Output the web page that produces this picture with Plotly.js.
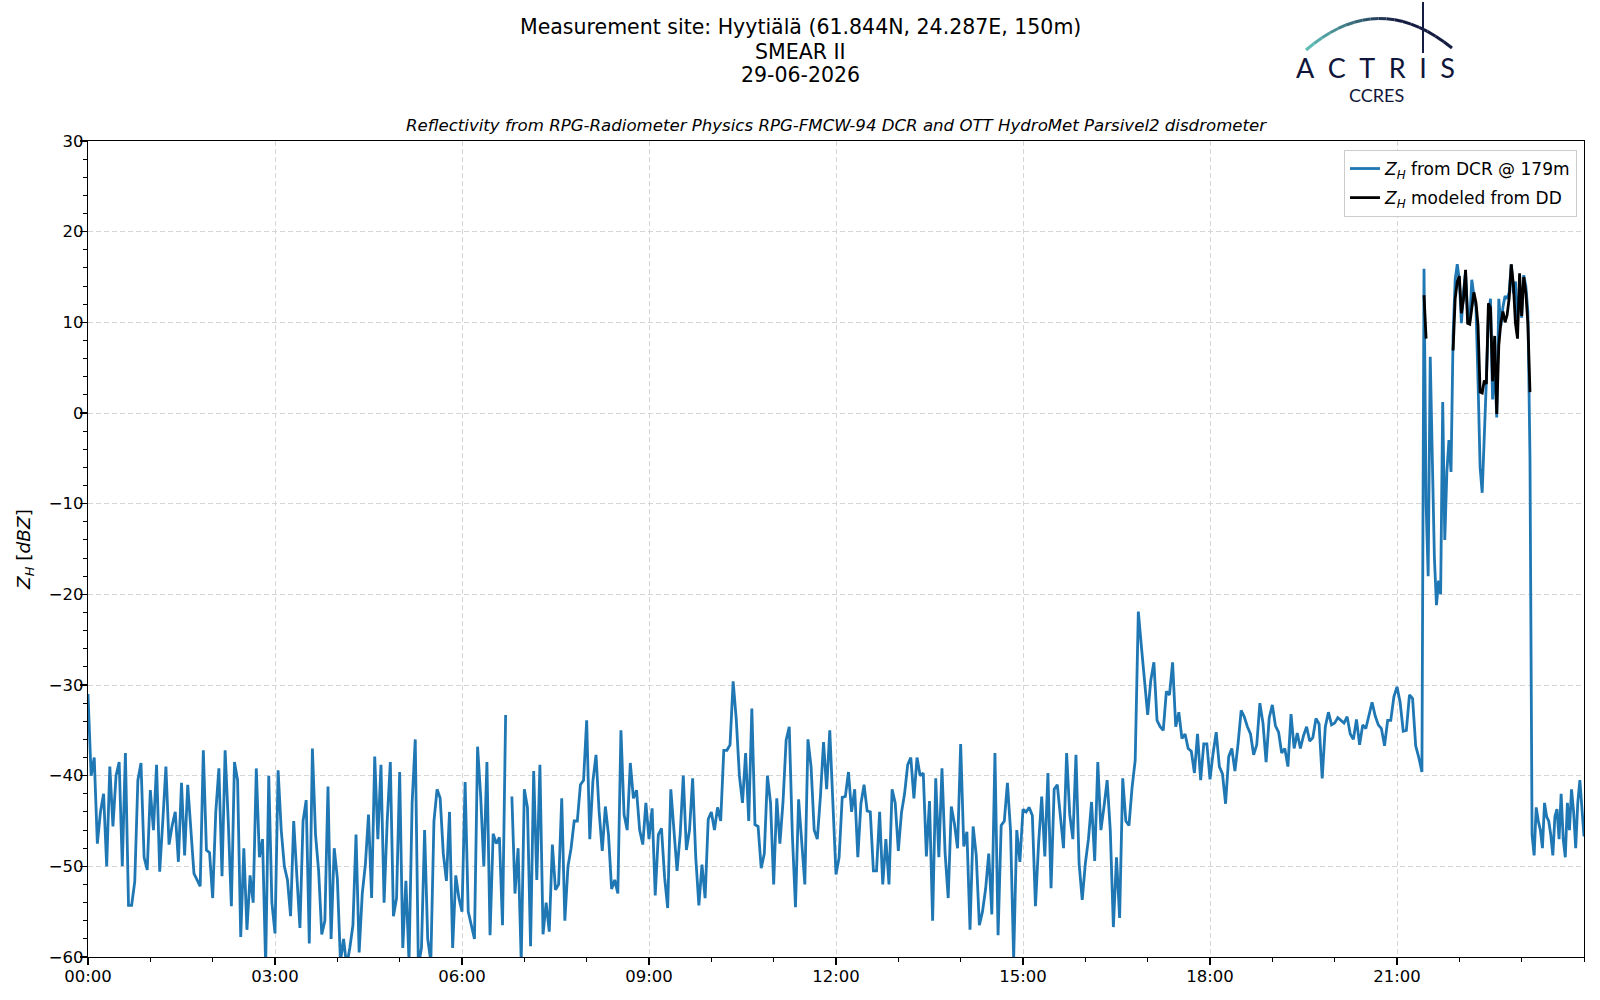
<!DOCTYPE html>
<html>
<head>
<meta charset="utf-8">
<script src="https://cdn.plot.ly/plotly-3.0.1.min.js"></script>
<style>
  html, body { margin: 0; padding: 0; background: #fff; }
  #chart { width: 1600px; height: 1000px; }
</style>
</head>
<body>
<div id="chart"></div>
<script>
// radar reflectivity, 3 minute steps from 00:00 until 21:24 (one row per hour)
var dcrDay = [
  -31, -40, -38, -47.5, -44, -42, -50, -39, -45.6, -40, -38.5, -50, -37.5, -54.3, -54.3, -51.7, -40.5, -38.6, -49, -50.4,
  -41.6, -46, -38.8, -50.6, -45, -39, -47.6, -45.5, -44, -49.5, -40.8, -48.8, -41, -46, -50.8, -51.5, -52.2, -37.2, -48.2, -48.5,
  -53.5, -44, -39.2, -51.1, -37.2, -45, -54.4, -38.5, -40.5, -57.8, -48, -57, -51, -54, -39.2, -49, -47, -61, -40, -54,
  -57.4, -39.4, -46, -50, -51.5, -55.5, -45, -51, -56.8, -45, -42.7, -58.5, -37, -46.5, -50.5, -57.5, -56, -41.2, -58, -48,
  -51.3, -60.5, -58, -61, -59, -56.5, -46.5, -59.5, -53, -49.8, -44.3, -53.5, -37.9, -47, -38.8, -54, -45, -38.5, -55.5, -53.5,
  -39.6, -59, -51.6, -60.5, -43, -36, -61, -59, -46, -58, -60.5, -45, -41.5, -42.5, -48.6, -51.6, -44, -59, -51, -53.5,
  -55, -40.7, -55, -56.5, -58, -36.8, -42.3, -50, -38.5, -57.6, -46.4, -47.5, -46.8, -56.5, -33.3, null, -42.3, -53, -48, -60.5,
  -41.5, -43.5, -58.8, -39.5, -51.5, -38.8, -57.5, -54, -57.2, -47.6, -52.6, -52, -42.5, -56, -50, -48, -45, -45, -41, -40.5,
  -33.9, -47, -40.6, -37.7, -44, -48.3, -43.4, -46.5, -52.5, -51.5, -53, -35, -44.3, -46, -38.6, -42.5, -41.6, -46, -47.6, -43,
  -47, -43.6, -53.2, -46.5, -45.8, -51.2, -54.6, -41.5, -46, -50.5, -46.5, -40, -48.2, -46, -40.3, -49, -54.3, -49.8, -53.5, -44.8,
  -44, -46, -43.5, -45, -37.2, -37.2, -36.6, -29.6, -33.8, -40, -43, -37.5, -45, -32.6, -45.4, -45.6, -50.2, -48.6, -40, -43,
  -52, -42.5, -47.5, -42.9, -36.1, -34.6, -46.6, -54.5, -42.6, -47.8, -52, -36, -39, -46, -47, -42.3, -36.3, -41.5, -35, -43,
  -50.9, -49, -42.4, -42.3, -39.6, -44, -41.5, -49, -43.1, -41, -43.9, -44, -50.5, -50.5, -44, -52, -47, -52, -41.5, -43,
  -48.3, -44.1, -42, -38.8, -38, -42.5, -38, -40, -39.7, -48.9, -42.8, -56, -40.3, -49, -39.2, -48.5, -53.5, -43.4, -45.3, -48,
  -36.5, -47.8, -46.2, -57, -45.6, -48.8, -56.5, -55, -52.5, -48.6, -55.3, -37.5, -57.6, -45.5, -45, -40.8, -46, -60.2, -46, -49.5,
  -43.7, -44, -43.5, -44.4, -54.4, -47.5, -42.3, -48.9, -39.7, -52.4, -41.5, -41, -44.9, -48, -37.5, -44.3, -47, -37.7, -49.7, -53.7,
  -49.7, -47, -42.9, -49.4, -38.5, -46, -43.4, -40.5, -46, -56.7, -49, -55.7, -40.3, -45, -45.5, -41.3, -38.3, -21.9, -25.8, -29.8,
  -33.3, -29.5, -27.5, -33.9, -34.6, -35, -30.7, -31.1, -27.5, -34.6, -33, -35.9, -35.4, -37, -37.3, -39.7, -35.4, -40.5, -36.5, -36.5,
  -40.4, -37.5, -35.2, -39, -39.8, -43.1, -37.9, -37, -39.5, -36.5, -32.8, -33.5, -34.6, -35.4, -37.7, -36.6, -32, -34.2, -38.5, -33.6,
  -32.2, -34.5, -35.2, -37.5, -37, -39, -33.2, -37, -35.3, -37, -35.6, -34.6, -36.2, -35.8, -33.7, -34.3, -40.3, -34.6, -33, -34.4,
  -34.2, -33.6, -33.9, -34.2, -33.5, -35.4, -36, -33.8, -36.6, -34.4, -34.8, -33.3, -31.9, -33.4, -34.4, -34.8, -36.7, -33.9, -33.9, -31.3,
  -30.2, -31.9, -35.1, -35, -31.1, -31.5, -36.7, -38, -39.6
]

// 2 minute steps from 21:26 until 24:00
var dcrRain = [
  15.9, -10, -18, 6.2, -5, -16, -21.2, -18.5, -20, 1.2,
  -14, -6.5, -3, -6.5, 8.6, 14.7, 16.4, 14.7, 9.9, 13.4,
  15.5, 10.9, 10.0, 14.7, 13.0, 11.7, 3.5, -6, -8.8, -3,
  3.5, 10.9, 12.6, 1.5, 5.7, -0.5, 12.6, 9.6, 11.7, 12.9,
  12.6, 13.3, 16.4, 13.2, 14.5, 10.5, 13.4, 10.5, 15.2, 14,
  11.2, -5, -46.5, -48.8, -43.5, -45, -46, -48, -43, -44.5,
  -45, -46.5, -48.8, -44.5, -43.7, -47, -42, -47, -49, -43,
  -46, -41.5, -44, -48, -43, -40.5, -44, -46.7
]

var ddRain = [
  13, 8.2, null, null, null, null, null, null, null, null,
  null, null, null, null, 6.9, 12.6, 14.5, 15.1, 11, 12.5,
  15.8, 9.9, 9.8, 11.5, 13.3, 12.2, 9.7, 2.3, 2.2, 3.6,
  3.2, 12.1, 11.6, 3.5, 8.5, -0.1, 7.5, 10, 11.2, 10,
  10.8, 12.7, 16.4, 14.2, 9.9, 8.2, 15.4, 10.7, 15, 13.3,
  9.8, 2.3, null, null, null, null, null, null, null, null,
  null, null, null, null, null, null, null, null, null, null,
  null, null, null, null, null, null, null, null
]

var tickLabels = ['00:00', '03:00', '06:00', '09:00', '12:00', '15:00', '18:00', '21:00']

var day = '2026-06-29'
var plotLeft = 88, plotRight = 1584, plotTop = 141, plotBottom = 957

function pad(n) {
  return (n < 10 ? '0' : '') + n
}

function stamp(minute) {
  if (minute >= 1440) return '2026-06-30 ' + pad(Math.floor((minute - 1440) / 60)) + ':' + pad(minute % 60)
  return day + ' ' + pad(Math.floor(minute / 60)) + ':' + pad(minute % 60)
}

function times(startMinute, step, n) {
  var out = []
  for (var i = 0; i < n; i++) out.push(stamp(startMinute + i * step))
  return out
}

// pixel position on the page -> paper coordinates
function px(x) { return (x - plotLeft) / (plotRight - plotLeft) }
function py(y) { return (plotBottom - y) / (plotBottom - plotTop) }

function logoShapes() {
  var shapes = []
  var p0 = [1306, 50], c = [1378, -12], p1 = [1452, 48]
  var teal = [95, 188, 182], navy = [20, 28, 66]
  var n = 18
  function pt(t) {
    return [
      (1 - t) * (1 - t) * p0[0] + 2 * (1 - t) * t * c[0] + t * t * p1[0],
      (1 - t) * (1 - t) * p0[1] + 2 * (1 - t) * t * c[1] + t * t * p1[1]
    ]
  }
  for (var i = 0; i < n; i++) {
    var a = pt(i / n), b = pt((i + 1) / n)
    var f = Math.min(1, i / (n * 0.6))
    var col = 'rgb(' + teal.map(function (v, k) { return Math.round(v + (navy[k] - v) * f) }).join(',') + ')'
    shapes.push({
      type: 'path', xref: 'paper', yref: 'paper',
      path: 'M ' + px(a[0]) + ',' + py(a[1]) + ' L ' + px(b[0]) + ',' + py(b[1]),
      line: { color: col, width: 3 }
    })
  }
  shapes.push({
    type: 'line', xref: 'paper', yref: 'paper',
    x0: px(1423), x1: px(1423), y0: py(2), y1: py(53),
    line: { color: '#141c42', width: 2 }
  })
  return shapes
}

function annotations() {
  var font = 'DejaVu Sans'
  var notes = [
    { text: 'Measurement site: Hyytiälä (61.844N, 24.287E, 150m)', y: 27.5 },
    { text: 'SMEAR II', y: 51.5 },
    { text: '29-06-2026', y: 75.5 }
  ].map(function (l) {
    return {
      text: l.text, xref: 'paper', yref: 'paper', x: px(800), y: py(l.y),
      xanchor: 'center', yanchor: 'middle', showarrow: false, borderpad: 0,
      font: { family: font, size: 20.5, color: '#000' }
    }
  })
  notes.push({
    text: '<i>Reflectivity from RPG-Radiometer Physics RPG-FMCW-94 DCR and OTT HydroMet Parsivel2 disdrometer</i>',
    xref: 'paper', yref: 'paper', x: 0.5, y: py(125), xanchor: 'center', yanchor: 'middle',
    showarrow: false, borderpad: 0, font: { family: font, size: 16.6, color: '#000' }
  })
  notes.push({
    text: 'A\u2002C\u2002T\u2002R\u2002I\u2002S', xref: 'paper', yref: 'paper',
    x: px(1375), y: py(67), xanchor: 'center', yanchor: 'middle', showarrow: false, borderpad: 0,
    font: { family: 'Lato', size: 27, color: '#10163a' }
  })
  notes.push({
    text: 'CCRES', xref: 'paper', yref: 'paper',
    x: px(1376), y: py(95), xanchor: 'center', yanchor: 'middle', showarrow: false, borderpad: 0,
    font: { family: 'Lato', size: 18, color: '#10163a' }
  })
  return notes
}

function getLayout() {
  var axisFont = { family: 'DejaVu Sans', size: 16.5, color: '#000' }
  return {
    width: 1600,
    height: 1000,
    margin: { l: plotLeft, r: 1600 - plotRight, t: plotTop, b: 1000 - plotBottom, autoexpand: false },
    paper_bgcolor: '#fff',
    plot_bgcolor: '#fff',
    showlegend: true,
    legend: {
      x: 0.9953, y: 0.989, xanchor: 'right', yanchor: 'top',
      bgcolor: '#fff', bordercolor: '#cccccc', borderwidth: 1,
      font: { family: 'DejaVu Sans', size: 17, color: '#000' },
      tracegroupgap: 4
    },
    xaxis: {
      type: 'date',
      range: [day + ' 00:00', '2026-06-30 00:00'],
      tickvals: tickLabels.map(function (l) { return day + ' ' + l }),
      ticktext: tickLabels,
      tickfont: axisFont,
      ticklabelstandoff: -3,
      ticks: 'outside', ticklen: 7, tickwidth: 1.2, tickcolor: '#000',
      minor: { dtick: 3600000, tick0: day + ' 00:00', ticks: 'outside', ticklen: 4, tickwidth: 1, tickcolor: '#000', showgrid: false },
      showgrid: true, gridcolor: '#d6d6d6', gridwidth: 1, griddash: '5px,3px',
      showline: true, linecolor: '#000', linewidth: 1.2, mirror: true,
      zeroline: false, automargin: false
    },
    yaxis: {
      range: [-60, 30],
      dtick: 10,
      tick0: 0,
      tickfont: axisFont,
      ticklabelstandoff: -7,
      ticks: 'outside', ticklen: 7, tickwidth: 1.2, tickcolor: '#000',
      minor: { dtick: 2, tick0: 0, ticks: 'outside', ticklen: 4, tickwidth: 1, tickcolor: '#000', showgrid: false },
      showgrid: true, gridcolor: '#d6d6d6', gridwidth: 1, griddash: '5px,3px',
      showline: true, linecolor: '#000', linewidth: 1.2, mirror: true,
      zeroline: false, automargin: false,
      title: {
        text: '<i>Z</i><sub><i>H</i></sub> [<i>dBZ</i>]',
        font: { family: 'DejaVu Sans', size: 18.5, color: '#000' },
        standoff: 13
      }
    },
    annotations: annotations(),
    shapes: logoShapes()
  }
}

function graph() {
  var dayTimes = times(0, 3, dcrDay.length)
  var rainTimes = times(21 * 60 + 26, 2, dcrRain.length)

  var data = [
    {
      x: dayTimes.concat(rainTimes),
      y: dcrDay.concat(dcrRain),
      name: '<i>Z</i><sub><i>H</i></sub> from DCR @ 179m',
      legendgroup: 'dcr',
      type: 'scatter',
      mode: 'lines',
      line: { color: '#1f77b4', width: 2.8 }
    },
    {
      x: rainTimes,
      y: ddRain,
      name: '<i>Z</i><sub><i>H</i></sub> modeled from DD',
      legendgroup: 'dd',
      type: 'scatter',
      mode: 'lines',
      line: { color: '#000', width: 2.8 }
    }
  ]

  Plotly.newPlot('chart', data, getLayout(), { displayModeBar: false, staticPlot: true })
}

graph()
</script>
</body>
</html>
